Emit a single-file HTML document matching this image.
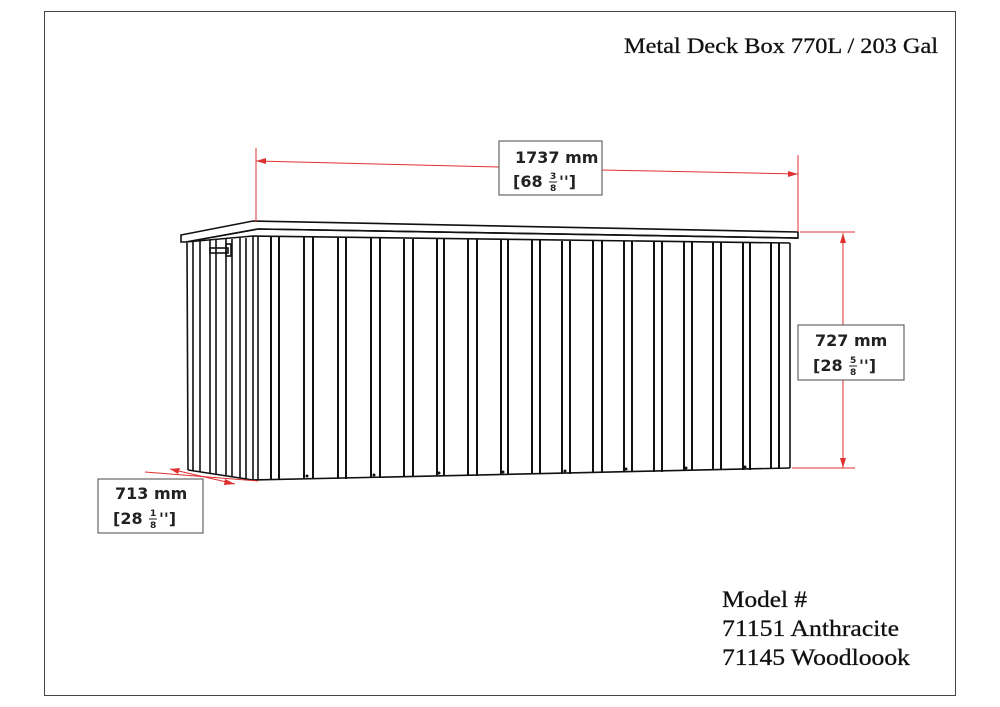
<!DOCTYPE html>
<html><head><meta charset="utf-8"><style>
body{margin:0;background:#fff;}
svg{display:block;}
.t{font-family:"DejaVu Sans",sans-serif;font-weight:bold;font-size:16px;fill:#222;}
.f{font-family:"DejaVu Sans",sans-serif;font-weight:bold;font-size:9px;fill:#222;}
.s{font-family:"Liberation Serif",serif;fill:#111;}
</style></head><body>
<svg width="1000" height="707" viewBox="0 0 1000 707">
<rect x="44.5" y="11.5" width="911" height="684" fill="none" stroke="#444" stroke-width="1"/>
<text class="s" x="624" y="53" style="font-size:22px" textLength="314" lengthAdjust="spacingAndGlyphs" stroke="#111" stroke-width="0.3">Metal Deck Box 770L / 203 Gal</text>
<text class="s" x="722" y="607" style="font-size:23px" textLength="85" lengthAdjust="spacingAndGlyphs" stroke="#111" stroke-width="0.3">Model #</text>
<text class="s" x="722" y="636" style="font-size:23px" textLength="177" lengthAdjust="spacingAndGlyphs" stroke="#111" stroke-width="0.3">71151 Anthracite</text>
<text class="s" x="722" y="665" style="font-size:23px" textLength="188" lengthAdjust="spacingAndGlyphs" stroke="#111" stroke-width="0.3">71145 Woodloook</text>

<g stroke="#111" fill="none" stroke-width="1.6">
<polygon points="181,235 253,221 798,232 798,238 258,229 186,242 181,242" fill="#fff"/>
<line x1="186" y1="242" x2="258" y2="229"/>
<line x1="258" y1="229" x2="798" y2="238"/>
<polyline points="186,242 253,236 790,243"/>
<line x1="253" y1="236" x2="253" y2="480"/>
<line x1="790" y1="243" x2="790" y2="468"/>
<line x1="253" y1="480" x2="790" y2="468"/>
<line x1="187" y1="243" x2="188" y2="470"/>
<line x1="188" y1="470" x2="253" y2="480"/>
<line x1="193" y1="242" x2="193" y2="471"/>
<line x1="200" y1="241" x2="200" y2="472"/>
<line x1="210" y1="240" x2="210" y2="474"/>
<line x1="216" y1="240" x2="216" y2="475"/>
<line x1="226" y1="239" x2="226" y2="476"/>
<line x1="232" y1="239" x2="232" y2="477"/>
<line x1="240" y1="238" x2="240" y2="478"/>
<line x1="246" y1="238" x2="246" y2="479"/>
<line x1="258" y1="236" x2="258" y2="480"/>
<rect x="210" y="248" width="18" height="5"/>
<rect x="226" y="244" width="5" height="12"/>
</g>
<g stroke="#111" fill="none" stroke-width="2">
<line x1="271" y1="237" x2="271" y2="480"/><line x1="279" y1="237" x2="279" y2="480"/>
<line x1="304" y1="237" x2="304" y2="479"/><line x1="313" y1="237" x2="313" y2="479"/>
<line x1="338" y1="238" x2="338" y2="479"/><line x1="346" y1="238" x2="346" y2="479"/>
<line x1="371" y1="238" x2="371" y2="478"/><line x1="380" y1="238" x2="380" y2="478"/>
<line x1="404" y1="239" x2="404" y2="477"/><line x1="413" y1="239" x2="413" y2="477"/>
<line x1="437" y1="239" x2="437" y2="476"/><line x1="444" y1="239" x2="444" y2="476"/>
<line x1="468" y1="239" x2="468" y2="476"/><line x1="477" y1="239" x2="477" y2="476"/>
<line x1="501" y1="240" x2="501" y2="475"/><line x1="508" y1="240" x2="508" y2="475"/>
<line x1="532" y1="240" x2="532" y2="474"/><line x1="540" y1="240" x2="540" y2="474"/>
<line x1="562" y1="241" x2="562" y2="474"/><line x1="570" y1="241" x2="570" y2="474"/>
<line x1="593" y1="241" x2="593" y2="473"/><line x1="602" y1="241" x2="602" y2="473"/>
<line x1="624" y1="241" x2="624" y2="472"/><line x1="632" y1="241" x2="632" y2="472"/>
<line x1="654" y1="242" x2="654" y2="472"/><line x1="662" y1="242" x2="662" y2="472"/>
<line x1="684" y1="242" x2="684" y2="471"/><line x1="692" y1="242" x2="692" y2="471"/>
<line x1="713" y1="242" x2="713" y2="470"/><line x1="721" y1="242" x2="721" y2="470"/>
<line x1="743" y1="243" x2="743" y2="470"/><line x1="750" y1="243" x2="750" y2="470"/>
<line x1="771" y1="243" x2="771" y2="469"/><line x1="779" y1="243" x2="779" y2="469"/>
</g>
<g fill="#111">
<circle cx="307" cy="476" r="1.5"/><circle cx="374" cy="475" r="1.5"/><circle cx="439" cy="473" r="1.5"/>
<circle cx="503" cy="472" r="1.5"/><circle cx="565" cy="471" r="1.5"/><circle cx="626" cy="469" r="1.5"/>
<circle cx="686" cy="468" r="1.5"/><circle cx="745" cy="467" r="1.5"/>
</g>

<g stroke="#e03030" stroke-width="1" fill="none">
<line x1="256" y1="148" x2="256" y2="222"/>
<line x1="798" y1="155" x2="798" y2="232"/>
<line x1="256" y1="161" x2="499" y2="167"/>
<line x1="602" y1="170" x2="798" y2="174"/>
<line x1="800" y1="232" x2="855" y2="232"/>
<line x1="792" y1="468" x2="855" y2="468"/>
<line x1="843" y1="233" x2="843" y2="325"/>
<line x1="843" y1="380" x2="843" y2="468"/>
<line x1="145" y1="472" x2="258" y2="481"/>
<line x1="170" y1="469" x2="235" y2="484"/>
</g>
<g fill="#e03030">
<polygon points="256,161 266,158 266,164"/>
<polygon points="798,174 788,171 788,177"/>
<polygon points="843,233 840,243 846,243"/>
<polygon points="843,468 840,458 846,458"/>
<polygon points="170,469 180,468 178,474"/>
<polygon points="235,484 225,479 224,485"/>
</g>

<g stroke="#666" stroke-width="1.2" fill="#fff">
<rect x="499" y="141" width="103" height="54"/>
<rect x="798" y="325" width="106" height="55"/>
<rect x="98" y="479" width="105" height="54"/>
</g>
<text class="t" x="515" y="163">1737 mm</text>
<text class="t" x="513" y="187">[68</text><text class="f" x="550" y="179">3</text><text class="f" x="550" y="191">8</text><text class="t" x="559" y="187">'']</text>
<line x1="549" y1="182" x2="557" y2="182" stroke="#222" stroke-width="1"/>
<text class="t" x="815" y="346">727 mm</text>
<text class="t" x="813" y="371">[28</text><text class="f" x="850" y="363">5</text><text class="f" x="850" y="375">8</text><text class="t" x="859" y="371">'']</text>
<line x1="849" y1="366" x2="857" y2="366" stroke="#222" stroke-width="1"/>
<text class="t" x="115" y="499">713 mm</text>
<text class="t" x="113" y="524">[28</text><text class="f" x="150" y="516">1</text><text class="f" x="150" y="528">8</text><text class="t" x="159" y="524">'']</text>
<line x1="149" y1="519" x2="157" y2="519" stroke="#222" stroke-width="1"/>
</svg>
</body></html>
